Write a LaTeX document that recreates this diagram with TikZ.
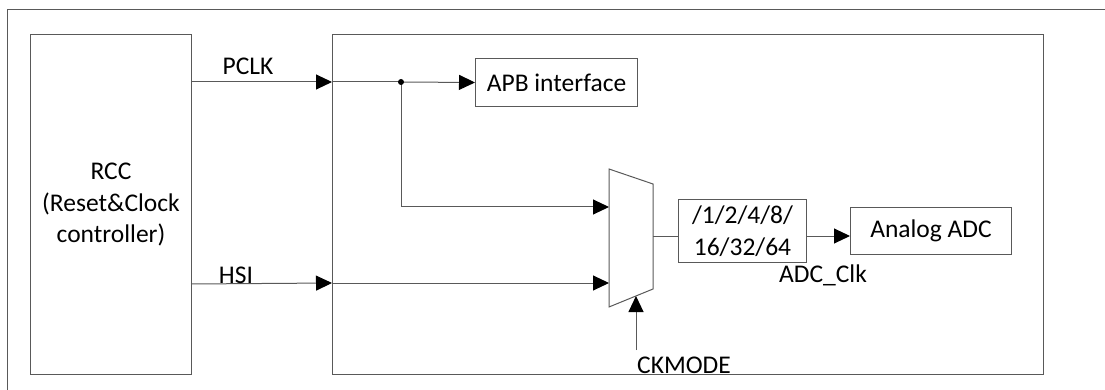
\documentclass[tikz,border=0pt]{standalone}
\usepackage{fontspec}
\setmainfont{Carlito}
\usetikzlibrary{arrows.meta}
\begin{document}
\begin{tikzpicture}[x=1pt,y=-1pt,
  ln/.style={draw=black!65, line width=1pt},
  arr/.style={ln, -{Triangle[length=16pt,width=15pt,color=black]}},
  txt/.style={font=\fontsize{25.5}{31.5}\selectfont},
  box/.style={ln, rectangle, anchor=north west, inner sep=0pt, align=center, txt},
  lbl/.style={txt, inner sep=0pt, anchor=base}]
\useasboundingbox (0,0) rectangle (1105,390);
% outer frame (cropped)
\draw[ln] (7,392) -- (7,10) -- (1107,10);
% blocks
\node[box, minimum width=161pt, minimum height=340pt] (rcc) at (30,34) {RCC\\(Reset\&Clock\\controller)};
\node[box, minimum width=711pt, minimum height=340pt] (blk) at (332,34) {};
\node[box, minimum width=162pt, minimum height=48pt] (apb) at (475,58) {APB interface};
\node[box, minimum width=128pt, minimum height=62pt] (div) at (678,199.5) {/1/2/4/8/\\16/32/64};
\node[box, minimum width=161pt, minimum height=47pt] (adc) at (850,207) {Analog ADC};
% multiplexer
\coordinate (m1) at (609,169);
\coordinate (m2) at (653,184);
\coordinate (m3) at (653,289);
\coordinate (m4) at (609,307);
\draw[ln] (m1) -- (m2) -- (m3) -- (m4) -- cycle;
\coordinate (min1) at (609,207);
\coordinate (min2) at (609,283);
\coordinate (mout) at (653,236);
\coordinate (msel) at (636,296);
% PCLK
\coordinate (p0) at (191,82);
\coordinate (p1) at (332,82);
\coordinate (dot) at (401,82);
\coordinate (turn) at (401,207);
\draw[arr] (p0) -- (p1);
\draw[ln] (p1) -- (dot);
\draw[arr] (dot) -- (apb.west);
\draw[arr] (dot) -- (turn) -- (min1);
\fill[black] (dot) circle (3pt);
\node[lbl] (pclk) at (248,75) {PCLK};
% HSI
\coordinate (h0) at (191,284);
\coordinate (h1) at (332,283);
\draw[arr] (h0) -- (h1);
\draw[arr] (h1) -- (min2);
\node[lbl] (hsi) at (236,283) {HSI};
% mux to divider to ADC
\draw[ln] (mout) -- (mout -| div.west);
\draw[arr] (div.east |- mout) -- (adc.west |- mout);
\node[lbl] (adcclk) at (823,282) {ADC\_Clk};
% CKMODE
\coordinate (ck) at (636,350);
\draw[arr] (ck) -- (msel);
\node[lbl] (ckmode) at (684,373) {CKMODE};
\end{tikzpicture}
\end{document}
